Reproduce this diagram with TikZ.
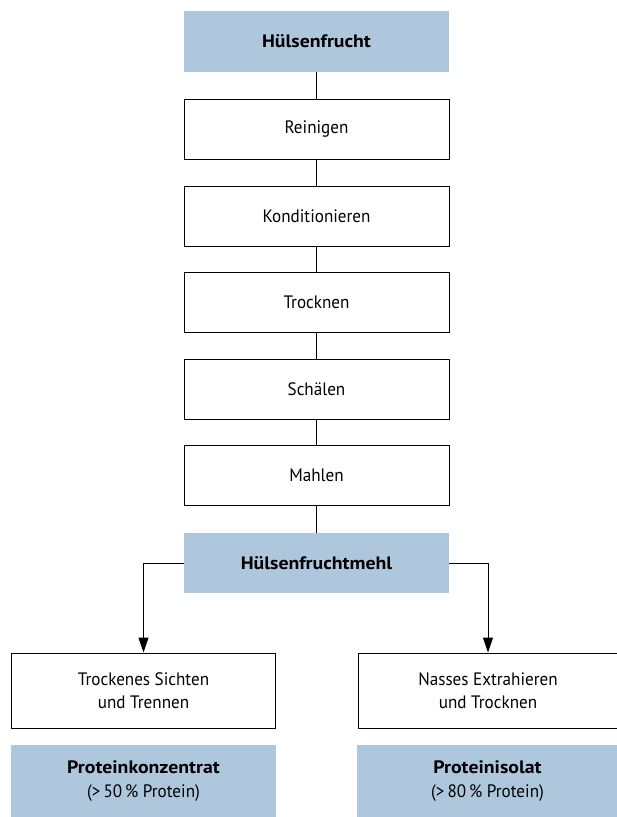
\documentclass[tikz,border=0pt]{standalone}
\usepackage{fontspec}
\setmainfont{PT Sans}[FakeStretch=0.95,BoldFeatures={FakeStretch=1.1}]
\usetikzlibrary{arrows.meta}
\definecolor{boxblue}{RGB}{175,199,221}
\begin{document}
\begin{tikzpicture}[x=1pt,y=-1pt,
  stepbox/.style={draw=black,line width=1pt,fill=white,inner sep=0pt,font=\fontsize{18}{23.5}\selectfont,align=center},
  bluebox/.style={fill=boxblue,draw=none,inner sep=0pt,font=\fontsize{18}{23.5}\selectfont,align=center},
  conn/.style={line width=1pt,draw=black},
  arr/.style={conn,-{Triangle[width=10pt,length=15pt]}}]
\useasboundingbox (0,0) rectangle (617,817);
\node[bluebox,minimum width=265pt,minimum height=61pt] (h) at (316.5,41.5) {\textbf{Hülsenfrucht}};
\node[stepbox,minimum width=265pt,minimum height=60pt] (r) at (316.5,129) {Reinigen};
\node[stepbox,minimum width=265pt,minimum height=60pt] (k) at (316.5,216) {Konditionieren};
\node[stepbox,minimum width=265pt,minimum height=60pt] (t) at (316.5,302) {Trocknen};
\node[stepbox,minimum width=265pt,minimum height=60pt] (s) at (316.5,389) {Schälen};
\node[stepbox,minimum width=265pt,minimum height=60pt] (m) at (316.5,475) {Mahlen};
\node[bluebox,minimum width=265pt,minimum height=60pt] (hm) at (316.5,563) {\textbf{Hülsenfruchtmehl}};
\node[stepbox,minimum width=264pt,minimum height=75pt] (ts) at (143.5,690.5) {Trockenes Sichten\\und Trennen};
\node[stepbox,minimum width=260pt,minimum height=75pt] (ne) at (488,690.5) {Nasses Extrahieren\\und Trocknen};
\node[bluebox,minimum width=265pt,minimum height=72pt] (pk) at (143.5,781) {\textbf{Proteinkonzentrat}\\(>\,50\,\% Protein)};
\node[bluebox,minimum width=261pt,minimum height=72pt] (pi) at (487.5,781) {\textbf{Proteinisolat}\\(>\,80\,\% Protein)};
\draw[conn] (h) -- (r);
\draw[conn] (r) -- (k);
\draw[conn] (k) -- (t);
\draw[conn] (t) -- (s);
\draw[conn] (s) -- (m);
\draw[conn] (m) -- (hm);
\draw[arr] (hm.west) -| (ts.north);
\draw[arr] (hm.east) -| (ne.north);
\end{tikzpicture}
\end{document}
